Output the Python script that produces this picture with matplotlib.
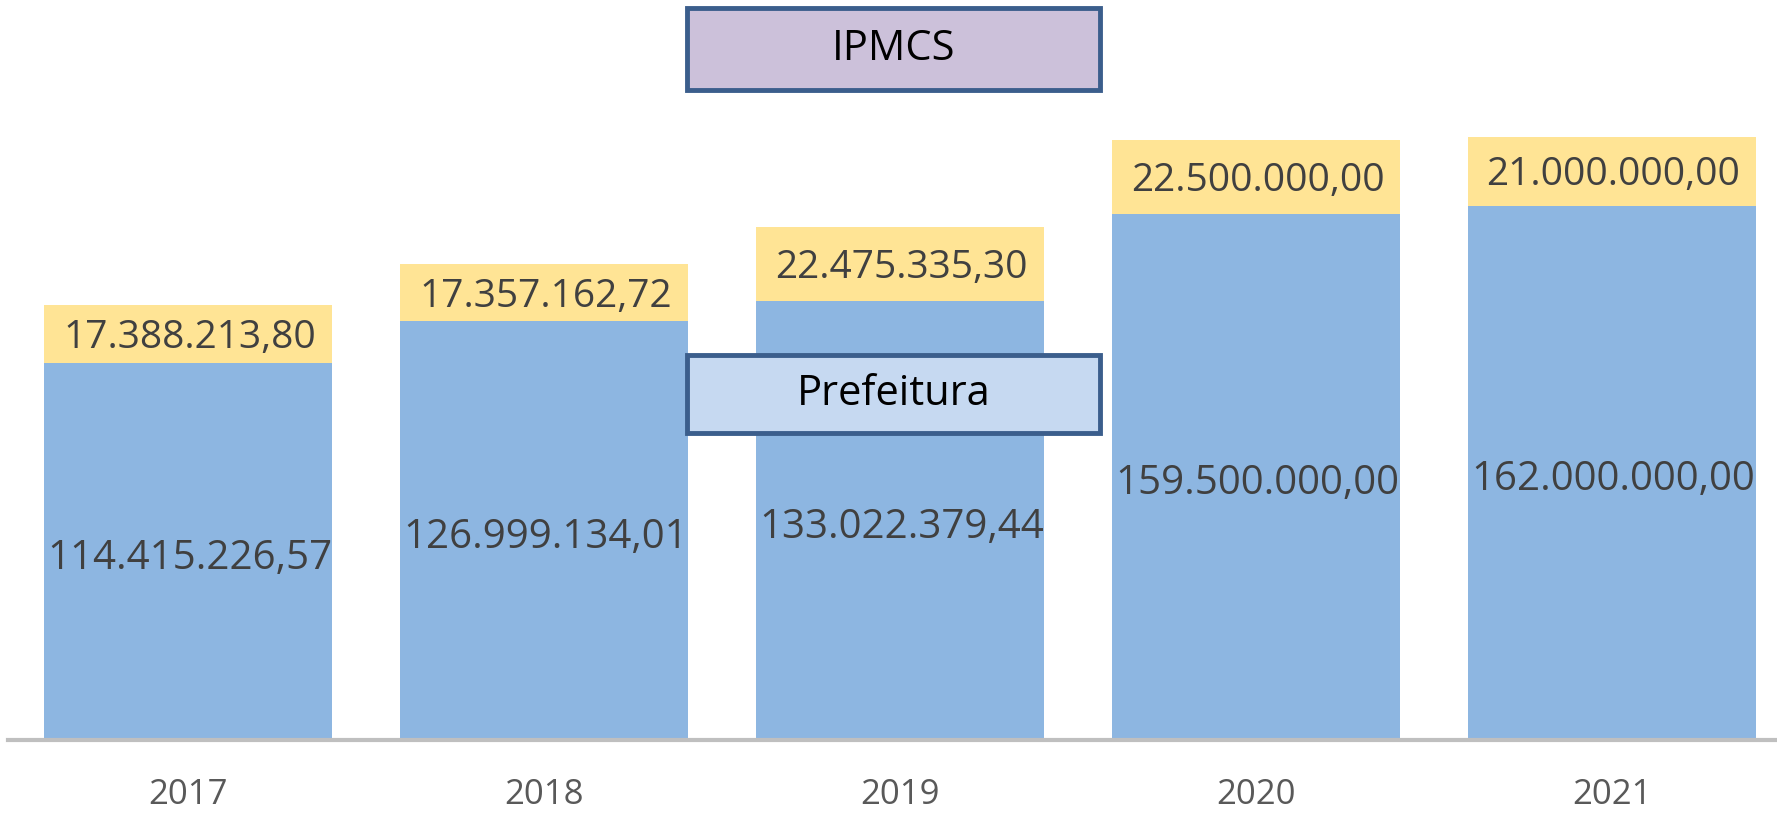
import matplotlib.pyplot as plt
from matplotlib.patches import Rectangle

# dados
anos = ['2017', '2018', '2019', '2020', '2021']
prefeitura = [114415226.57, 126999134.01, 133022379.44, 159500000.00, 162000000.00]
ipmcs = [17388213.80, 17357162.72, 22475335.30, 22500000.00, 21000000.00]

cor_pref = '#8db6e1'
cor_ipmcs = '#ffe495'
cor_texto = '#404040'

plt.rcParams['font.family'] = ['Open Sans', 'DejaVu Sans']


def fmt_br(v):
    # formato brasileiro: 1.234.567,89
    s = f"{v:,.2f}"
    return s.replace(',', 'X').replace('.', ',').replace('X', '.')


fig = plt.figure(figsize=(17.77, 8.16), dpi=100)
ax = fig.add_axes([8 / 1777, 76 / 816, 1 - 8 / 1777, 740 / 816])

x = list(range(len(anos)))
ax.bar(x, prefeitura, width=0.81, color=cor_pref)
ax.bar(x, ipmcs, width=0.81, bottom=prefeitura, color=cor_ipmcs)

# rótulos no centro de cada segmento
for i in x:
    ax.annotate(fmt_br(prefeitura[i]), (i, prefeitura[i] / 2), xytext=(1, -5),
                textcoords='offset points', ha='center', va='center',
                fontsize=29, color=cor_texto)
    ax.annotate(fmt_br(ipmcs[i]), (i, prefeitura[i] + ipmcs[i] / 2), xytext=(1, -3),
                textcoords='offset points', ha='center', va='center',
                fontsize=28, color=cor_texto)

ax.set_xlim(-0.506, 4.463)
ax.set_ylim(0, 224.4e6)
ax.set_xticks(x)
ax.set_xticklabels(anos, fontsize=25, color='#595959')
ax.tick_params(axis='x', length=0, pad=27)
ax.set_yticks([])
for s in ['top', 'right', 'left']:
    ax.spines[s].set_visible(False)
ax.spines['bottom'].set_color('#bfbfbf')
ax.spines['bottom'].set_linewidth(3)

# caixas de legenda
W, H = 1777, 816
caixas = [('IPMCS', 8, 90, '#ccc1da'), ('Prefeitura', 355, 433, '#c6d9f1')]
for nome, y0, y1, cor in caixas:
    r = Rectangle((687 / W, 1 - y1 / H), (1100 - 687) / W, (y1 - y0) / H,
                  transform=fig.transFigure, facecolor=cor, edgecolor='#3b5e8c',
                  linewidth=3.5, zorder=5)
    fig.add_artist(r)
    fig.text((687 + 1100) / 2 / W, 1 - (y0 + y1) / 2 / H, nome, ha='center',
             va='center', fontsize=30, color='black', zorder=6)

fig.savefig('out.png', dpi=100)
